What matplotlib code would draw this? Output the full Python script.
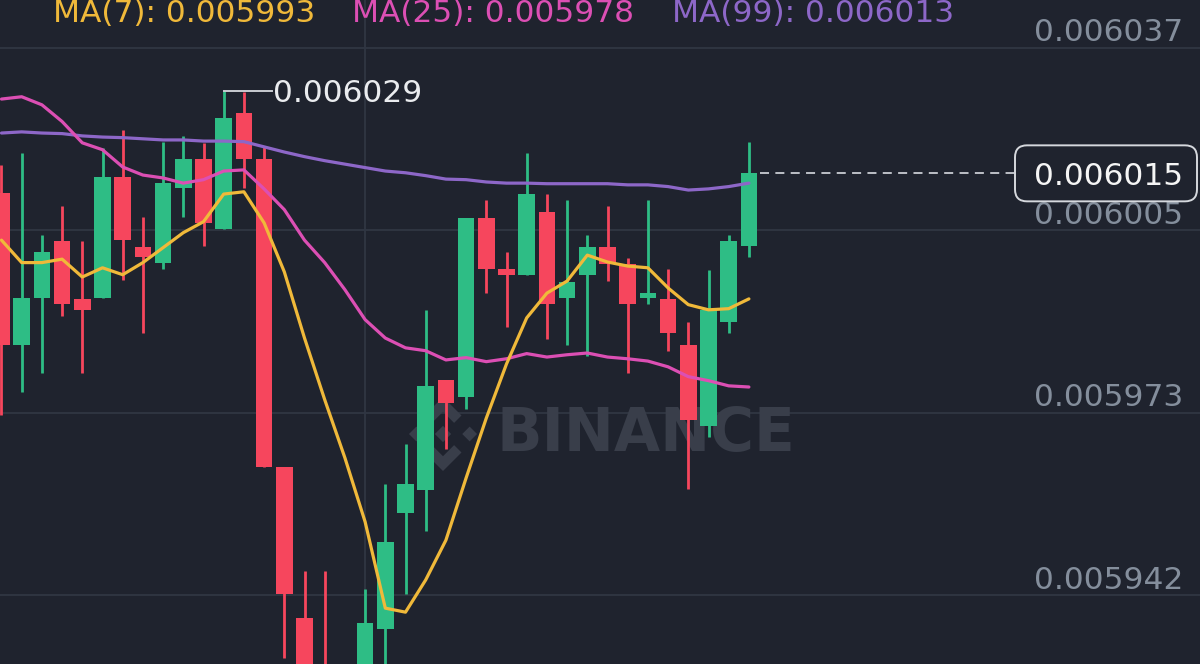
import numpy as np
import matplotlib
matplotlib.use("Agg")
import matplotlib.pyplot as plt
from matplotlib.patches import FancyBboxPatch, Polygon
from matplotlib.transforms import IdentityTransform, blended_transform_factory

# ---------------- data ----------------
opens = [0.0060116, 0.0059852, 0.0059934, 0.0060033, 0.0059932, 0.0059934, 0.0060144, 0.0060022,
         0.0059995, 0.0060125, 0.0060175, 0.0060054, 0.0060255, 0.0060175, 0.0059640, 0.0059378,
         0.0059253, 0.0059166, 0.0059253, 0.0059359, 0.0059560, 0.0059600, 0.0059791, 0.0059762,
         0.0060073, 0.0059984, 0.0059974, 0.0060083, 0.0059934, 0.0059974, 0.0060022, 0.0059993,
         0.0059934, 0.0059932, 0.0059852, 0.0059711, 0.0059892, 0.0060024]
highs = [0.0060165, 0.0060186, 0.0060043, 0.0060094, 0.0060033, 0.0060194, 0.0060226, 0.0060074,
         0.0060205, 0.0060215, 0.0060203, 0.0060293, 0.0060291, 0.0060196, 0.0059640, 0.0059460,
         0.0059460, 0.0059284, 0.0059428, 0.0059611, 0.0059680, 0.0059913, 0.0059791, 0.0060073,
         0.0060104, 0.0060014, 0.0060186, 0.0060114, 0.0060104, 0.0060043, 0.0060094, 0.0060003,
         0.0060104, 0.0059984, 0.0059892, 0.0059982, 0.0060043, 0.0060205]
lows = [0.0059730, 0.0059770, 0.0059803, 0.0059902, 0.0059803, 0.0059934, 0.0059965, 0.0059873,
        0.0059984, 0.0060074, 0.0060024, 0.0060054, 0.0060125, 0.0059640, 0.0059308, 0.0059201,
        0.0059131, 0.0059149, 0.0059235, 0.0059253, 0.0059420, 0.0059529, 0.0059672, 0.0059741,
        0.0059942, 0.0059883, 0.0059974, 0.0059862, 0.0059852, 0.0059833, 0.0059963, 0.0059803,
        0.0059923, 0.0059842, 0.0059602, 0.0059692, 0.0059873, 0.0060005]
closes = [0.0059852, 0.0059934, 0.0060014, 0.0059923, 0.0059913, 0.0060144, 0.0060034, 0.0060005,
          0.0060133, 0.0060175, 0.0060064, 0.0060246, 0.0060175, 0.0059640, 0.0059420, 0.0059235,
          0.0059166, 0.0059253, 0.0059369, 0.0059510, 0.0059611, 0.0059781, 0.0059751, 0.0060073,
          0.0059984, 0.0059974, 0.0060114, 0.0059923, 0.0059962, 0.0060022, 0.0059993, 0.0059923,
          0.0059942, 0.0059873, 0.0059722, 0.0059913, 0.0060033, 0.0060150]

ma7 = [0.0060034, 0.0059995, 0.0059995, 0.0060001, 0.0059970, 0.0059986, 0.0059974, 0.0059995,
       0.0060021, 0.0060047, 0.0060066, 0.0060114, 0.0060118, 0.0060064, 0.0059979, 0.0059864,
       0.0059757, 0.0059656, 0.0059545, 0.0059395, 0.0059388, 0.0059444, 0.0059513, 0.0059621,
       0.0059725, 0.0059819, 0.0059899, 0.0059942, 0.0059963, 0.0060008, 0.0059996, 0.0059989,
       0.0059986, 0.0059951, 0.0059922, 0.0059913, 0.0059915, 0.0059932]
ma25 = [0.0060279, 0.0060283, 0.0060269, 0.0060240, 0.0060203, 0.0060191, 0.0060161, 0.0060147,
        0.0060142, 0.0060133, 0.0060139, 0.0060154, 0.0060156, 0.0060123, 0.0060087, 0.0060034,
        0.0059995, 0.0059948, 0.0059896, 0.0059864, 0.0059847, 0.0059842, 0.0059826, 0.0059830,
        0.0059823, 0.0059828, 0.0059837, 0.0059831, 0.0059835, 0.0059838, 0.0059831, 0.0059828,
        0.0059824, 0.0059814, 0.0059797, 0.0059790, 0.0059781, 0.0059779]
ma99 = [0.0060220, 0.0060222, 0.0060220, 0.0060219, 0.0060215, 0.0060213, 0.0060212, 0.0060210,
        0.0060208, 0.0060208, 0.0060206, 0.0060206, 0.0060205, 0.0060196, 0.0060187, 0.0060179,
        0.0060172, 0.0060166, 0.0060160, 0.0060154, 0.0060151, 0.0060146, 0.0060140, 0.0060139,
        0.0060135, 0.0060133, 0.0060133, 0.0060132, 0.0060132, 0.0060132, 0.0060132, 0.0060130,
        0.0060130, 0.0060127, 0.0060121, 0.0060123, 0.0060127, 0.0060133]

legend_labels = ["MA(7): 0.005993", "MA(25): 0.005978", "MA(99): 0.006013"]
tick_values = [0.0060368, 0.0060051, 0.0059734, 0.0059417]
tick_labels = ["0.006037", "0.006005", "0.005973", "0.005942"]
high_label = "0.006029"
last_label = "0.006015"

# ---------------- style ----------------
BG = "#1f232e"
GRID = "#303643"
UP = "#2ebd85"
DOWN = "#f6465d"
C7, C25, C99 = "#f0b93a", "#dc4fb4", "#8d67c8"
AXIS_TXT = "#848e9c"
WM = "#393e4a"

plt.rcParams["font.family"] = ["DejaVu Sans"]
W, H = 1200, 664
fig = plt.figure(figsize=(W / 100, H / 100), dpi=100, facecolor=BG)
ax = fig.add_axes([0, 0, 1, 1])
ax.set_facecolor(BG)
for s in ax.spines.values():
    s.set_visible(False)
ax.set_xticks([])
ax.set_yticks([])

n = len(opens)
x = np.arange(n)
step_px = 20.2
x0_px = 1.5
ax.set_xlim((0 - x0_px) / step_px, (W - x0_px) / step_px)
ax.set_ylim(0.0059298, 0.0060451)

# grid
for tv in tick_values:
    ax.axhline(tv, color=GRID, lw=1.3, zorder=0)
ax.axvline((365 - x0_px) / step_px, color=GRID, lw=1.3, zorder=0)

# watermark
def to_disp(px, py):
    return (px, H - py)

cx, cy, s = 443, 434, 37
def diamond(ux, uy, r):
    return [(ux, uy + r), (ux + r, uy), (ux, uy - r), (ux - r, uy)]
shapes = [diamond(0, 0, 0.22), diamond(-0.72, 0, 0.2), diamond(0.72, 0, 0.2),
          [(0, 1.0), (0.5, 0.5), (0.3, 0.3), (0, 0.6), (-0.3, 0.3), (-0.5, 0.5)],
          [(0, -1.0), (0.5, -0.5), (0.3, -0.3), (0, -0.6), (-0.3, -0.3), (-0.5, -0.5)]]
for shp in shapes:
    pts = [to_disp(cx + ux * s, cy - uy * s) for ux, uy in shp]
    ax.add_patch(Polygon(pts, closed=True, transform=IdentityTransform(),
                         fc=WM, ec="none", zorder=0.5))
ax.text(497 / W, 1 - 434 / H, "BINANCE", transform=ax.transAxes, ha="left", va="center",
        fontsize=43, fontweight="bold", color=WM, zorder=0.5)

# candles
o = np.array(opens); c = np.array(closes)
cols = [UP if cc >= oo else DOWN for oo, cc in zip(o, c)]
ax.vlines(x, lows, highs, colors=cols, lw=2.0, zorder=2)
ax.bar(x, c - o, bottom=o, width=0.83, color=cols, linewidth=0, zorder=3)

# moving averages
ax.plot(x, ma99, color=C99, lw=2.3, zorder=4, solid_capstyle="round")
ax.plot(x, ma25, color=C25, lw=2.3, zorder=4, solid_capstyle="round")
ax.plot(x, ma7, color=C7, lw=2.3, zorder=4, solid_capstyle="round")

# legend texts
for lbl, col, px in zip(legend_labels, [C7, C25, C99], [53, 352, 672]):
    ax.text(px / W, 1 - 22 / H, lbl, transform=ax.transAxes, ha="left", va="baseline",
            fontsize=22.5, color=col, zorder=6)

# price axis labels (inside, right)
bt = blended_transform_factory(ax.transAxes, ax.transData)
fig.canvas.draw()
for tv, tl in zip(tick_values, tick_labels):
    yd = ax.transData.transform((0, tv))[1] + 18
    ax.text(1183, yd, tl, transform=IdentityTransform(), ha="right", va="center_baseline",
            fontsize=22.5, color=AXIS_TXT, zorder=6)

# high marker
hi_i = int(np.argmax(highs))
hi = highs[hi_i]
x_end = (272 - x0_px) / step_px
ax.plot([hi_i, x_end], [hi, hi], color="#c9ccd2", lw=1.4, zorder=5)
ax.text((273 - x0_px) / step_px, hi, high_label, ha="left", va="center_baseline",
        fontsize=22.5, color="#eaecef", zorder=6)

# last price line + box
last = closes[-1]
ax.plot([760 / W, 1015 / W], [last, last], transform=bt, color="#c9ccd2", lw=1.3,
        dashes=(5, 3.5), zorder=5)
yd = ax.transData.transform((0, last))[1]
box = FancyBboxPatch((1015, yd - 28), 182, 56, boxstyle="round,pad=0,rounding_size=12",
                     transform=IdentityTransform(), fc=BG, ec="#d5d8dd", lw=1.4, zorder=7)
ax.add_patch(box)
ax.text(1183, yd, last_label, transform=IdentityTransform(), ha="right", va="center_baseline",
        fontsize=22.5, color="#f5f5f5", zorder=8)

fig.savefig("out.png", dpi=100, facecolor=BG)
